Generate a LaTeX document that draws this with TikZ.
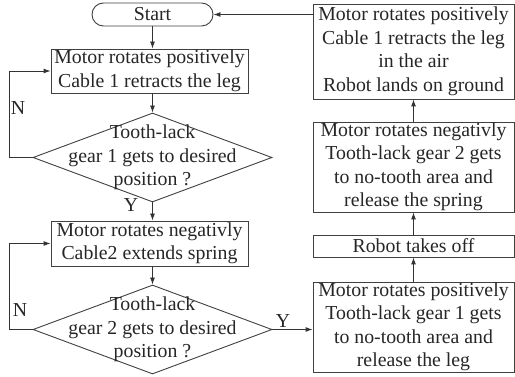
\documentclass[tikz,border=0pt]{standalone}
\usepackage{fontspec}
\setmainfont{Liberation Serif}
\usetikzlibrary{shapes.geometric,arrows.meta}
\begin{document}
\begin{tikzpicture}[x=1pt,y=-1pt,
  every node/.style={font=\fontsize{19.8}{23.5}\selectfont, align=center, inner sep=0pt, text=black!85},
  box/.style={draw=black!75, line width=0.9pt},
  lbox/.style={box, minimum width=197},
  rbox/.style={box, minimum width=201},
  term/.style={box, rectangle, rounded corners=11.5pt, minimum width=121, minimum height=23},
  dia/.style={box, diamond, minimum width=239, minimum height=89},
  arr/.style={-{Latex[length=7pt,width=5pt]}, line width=0.9pt, draw=black!80}]
\useasboundingbox (0,0) rectangle (515,377);

\node[term] (start) at (152.5,14.5) {Start};
\node[lbox, minimum height=44] (b1) at (149.5,71) {Motor rotates positively\\Cable 1 retracts the leg};
\node[dia] (d1) at (152.5,157.5) {};
\node (d1t) at (d1.center) {Tooth-lack\\gear 1 gets to desired\\position ?};
\node[lbox, minimum height=45] (b2) at (149.5,243.5) {Motor rotates negativly\\Cable2 extends spring};
\node[dia] (d2) at (152.5,329.5) {};
\node (d2t) at (d2.center) {Tooth-lack\\gear 2 gets to desired\\position ?};

\node[rbox, minimum height=95] (r1) at (413.5,51.5) {Motor rotates positively\\Cable 1 retracts the leg\\in the air\\Robot lands on ground};
\node[rbox, minimum height=90] (r2) at (413.5,167) {Motor rotates negativly\\Tooth-lack gear 2 gets\\to no-tooth area and\\release the spring};
\node[rbox, minimum height=22] (r3) at (413.5,246) {Robot takes off};
\node[rbox, minimum height=90] (r4) at (413.5,327) {Motor rotates positively\\Tooth-lack gear 1 gets\\to no-tooth area and\\release the leg};

\draw[arr] (start.south) -- (start.south |- b1.north);
\draw[arr] (b1.south -| d1.north) -- (d1.north);
\draw[arr] (d1.south) -- (d1.south |- b2.north);
\draw[arr] (b2.south -| d2.north) -- (d2.north);
\draw[arr] (d1.west) -- ++(-23,0) |- (b1.west);
\draw[arr] (d2.west) -- ++(-23,0) |- (b2.west);
\draw[arr] (d2.east) -- (d2.east -| r4.west);
\draw[arr] (r4.north) -- (r3.south);
\draw[arr] (r3.north) -- (r2.south);
\draw[arr] (r2.north) -- (r1.south);
\draw[arr] (r1.west |- start.east) -- (start.east);

\node (n1) at (18,108) {N};
\node (n2) at (20,310) {N};
\node (y1) at (131,205) {Y};
\node (y2) at (283,321) {Y};
\end{tikzpicture}
\end{document}
